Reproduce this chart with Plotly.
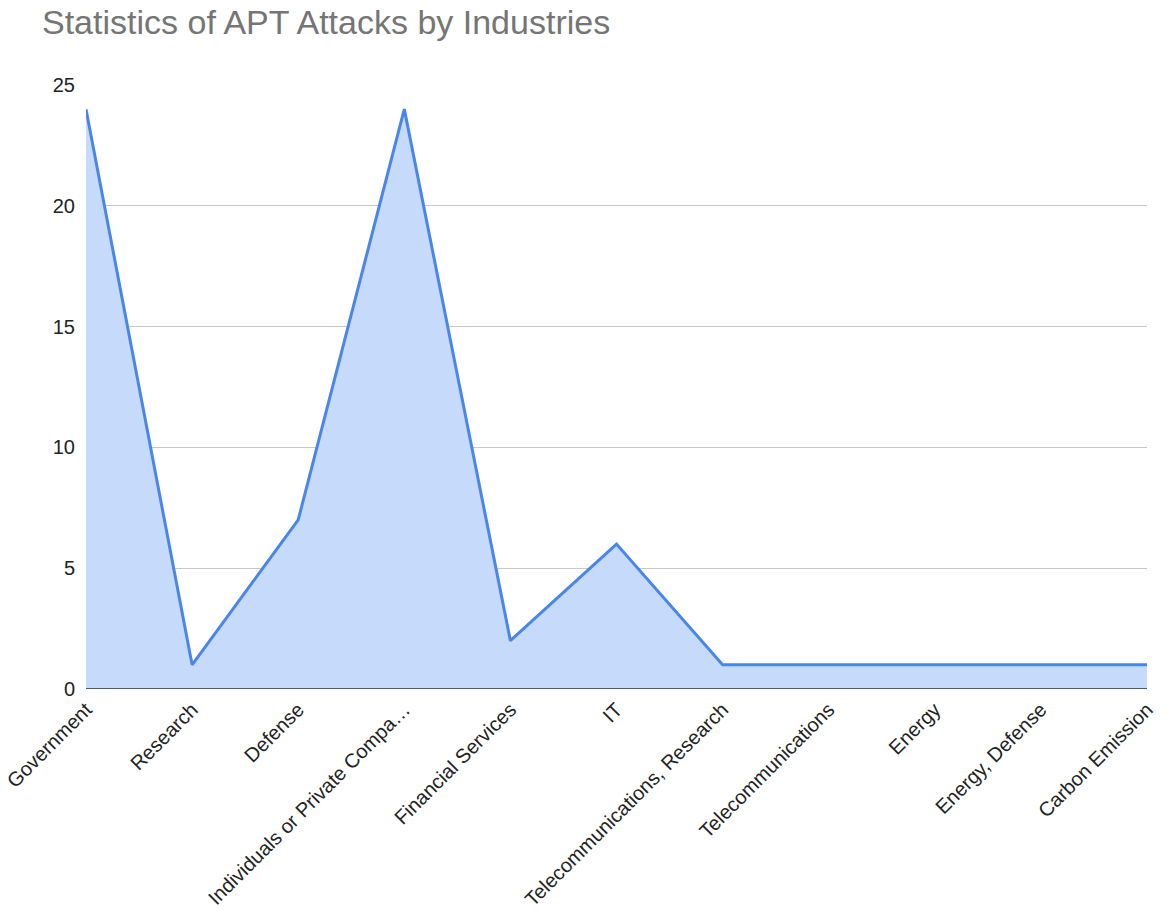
import plotly.graph_objects as go

# Industries and number of APT attacks per industry
industries = [
    "Government",
    "Research",
    "Defense",
    "Individuals or Private Compa…",
    "Financial Services",
    "IT",
    "Telecommunications, Research",
    "Telecommunications",
    "Energy",
    "Energy, Defense",
    "Carbon Emission",
]
attacks = [24, 1, 7, 24, 2, 6, 1, 1, 1, 1, 1]
y_ticks = [0, 5, 10, 15, 20, 25]

fig = go.Figure()
fig.add_trace(go.Scatter(
    x=industries,
    y=attacks,
    mode="lines",
    fill="tozeroy",
    fillcolor="rgba(198,218,252,1)",
    line=dict(color="#4a86e8", width=3),
    hoverinfo="x+y",
))

fig.update_layout(
    width=1171,
    height=911,
    margin=dict(l=86, r=24, t=85, b=222),
    paper_bgcolor="white",
    plot_bgcolor="white",
    showlegend=False,
    font=dict(family="Liberation Sans, Arial, sans-serif", color="#222222", size=20),
    title=dict(
        text="Statistics of APT Attacks by Industries",
        font=dict(size=34, color="#757575", family="Liberation Sans, Arial, sans-serif"),
        xref="container", yref="container",
        x=42 / 1171, xanchor="left",
        y=1 - 22 / 911, yanchor="middle",
    ),
    xaxis=dict(
        type="category",
        range=[0, len(industries) - 1],
        tickangle=-45,
        showgrid=False,
        showline=False,
        zeroline=False,
        ticks="",
        ticklabelstandoff=4,
        tickfont=dict(size=20, color="#222222"),
        automargin=False,
        fixedrange=True,
    ),
    yaxis=dict(
        range=[0, 25],
        tickvals=y_ticks,
        showgrid=True,
        gridcolor="#c8c8c8",
        gridwidth=1,
        zeroline=False,
        showline=False,
        ticks="",
        ticklabelstandoff=10,
        tickfont=dict(size=20, color="#222222"),
        automargin=False,
        fixedrange=True,
    ),
)

# Baseline along y = 0
fig.add_shape(
    type="line", xref="paper", yref="y",
    x0=0, x1=1, y0=0, y1=0,
    line=dict(color="#4f5a66", width=2),
)

fig.write_html("out.html")
